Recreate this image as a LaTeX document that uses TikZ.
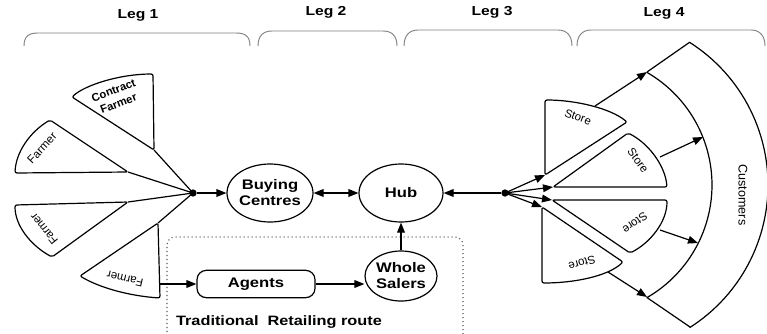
\documentclass[tikz,border=0pt]{standalone}
\usepackage{fontspec}
\setmainfont{Liberation Sans}
\newfontfamily\widefont[FakeStretch=1.2]{Liberation Sans}
\usetikzlibrary{arrows.meta,shapes.geometric}
\tikzset{
  arr/.style={-{Triangle[length=7.5pt,width=5.8pt]}},
  dbl/.style={{Triangle[length=7.5pt,width=5.8pt]}-{Triangle[length=7.5pt,width=5.8pt]}},
  sect/.style={draw, line join=round, rounded corners=1.5pt},
  lbl/.style={font=\widefont\bfseries\fontsize{10.4}{12}\selectfont, align=center},
  leglbl/.style={font=\widefont\bfseries\fontsize{9.8}{11}\selectfont},
  small/.style={font=\fontsize{8.6}{10}\selectfont, align=center},
  smallb/.style={font=\bfseries\fontsize{8.4}{10.5}\selectfont, align=center},
  brace/.style={draw=gray, line width=0.7pt},
  dotnode/.style={circle, fill, inner sep=0pt, minimum size=5.5pt},
  ell/.style={draw, ellipse, inner sep=0pt}
}
\begin{document}
\begin{tikzpicture}[x=0.75pt,y=-0.75pt,line width=0.9pt]
\clip (0,0) rectangle (767,333);
\useasboundingbox (0,0) rectangle (767,333);

% Leg labels and braces
\node[leglbl] (leg1) at (138,15) {Leg 1};
\node[leglbl] (leg2) at (326,12) {Leg 2};
\node[leglbl] (leg3) at (492,12) {Leg 3};
\node[leglbl] (leg4) at (664,13) {Leg 4};
\draw[brace] (24,46) .. controls (24,36) and (29,33) .. (38,33) -- (236,33) .. controls (245,33) and (250,36) .. (250,46);
\draw[brace] (258,46) .. controls (258,36) and (263,31) .. (272,31) -- (383,31) .. controls (392,31) and (397,36) .. (397,46);
\draw[brace] (404,46) .. controls (404,36) and (409,30) .. (418,30) -- (558,30) .. controls (567,30) and (572,36) .. (572,46);
\draw[brace] (577,46) .. controls (577,36) and (582,30) .. (591,30) -- (751,30) .. controls (760,30) and (765,36) .. (765,46);

% traditional route box
\draw[gray!70!black, line width=0.9pt, dash pattern=on 0.8pt off 2.2pt, rounded corners=6pt] (167,340) -- (167,237) -- (463,237) -- (463,340);
\node[anchor=west, font=\widefont\bfseries\fontsize{10.2}{11}\selectfont] (trad) at (171,322) {Traditional~~Retailing route};

% main nodes
\node[dotnode] (d1) at (193,193) {};
\node[ell, minimum width=64.5pt, minimum height=43.5pt, label={[lbl]center:{Buying\\Centres}}] (bc) at (270,193) {};
\node[ell, minimum width=63pt, minimum height=43.5pt, label={[lbl]center:Hub}] (hub) at (401,193) {};
\node[ell, minimum width=54pt, minimum height=37.5pt, label={[lbl]center:{Whole\\Salers}}] (ws) at (401,276) {};
\node[draw, rounded corners=7pt, minimum width=88.5pt, minimum height=20.5pt, inner sep=0pt, lbl] (ag) at (256,284) {Agents};
\node[dotnode] (d2) at (505,193) {};

% farmers
\coordinate (cfa) at (154,150);
\draw[sect] (cfa) -- (72,97) .. controls (85,85) and (120,74) .. (153,74) -- cycle;
\node[smallb, rotate=21] (cft) at (116,97) {Contract\\Farmer};
\coordinate (f1a) at (128,172);
\draw[sect] (f1a) -- (50,120) .. controls (30,132) and (16,152) .. (15,173) -- cycle;
\node[small, rotate=47] (f1t) at (42,148) {Farmer};
\coordinate (f2a) at (128,202);
\draw[sect] (f2a) -- (15,205) .. controls (15,225) and (30,245) .. (52,257) -- cycle;
\node[small, rotate=129] (f2t) at (44,229) {Farmer};
\coordinate (f3a) at (158,223);
\draw[sect] (f3a) -- (80,276) .. controls (100,288) and (130,296) .. (160,298) -- cycle;
\node[small, rotate=167] (f3t) at (125,279) {Farmer};
\coordinate (f3o) at (159,284);

\draw (cfa) -- (d1.center);
\draw (f1a) -- (d1.center);
\draw (f2a) -- (d1.center);
\draw (f3a) -- (d1.center);
\draw[arr] (d1) -- (bc);
\draw[arr] (f3o) -- (ag.west);
\draw[dbl] (bc) -- (hub);
\draw[arr] (ag.east) -- (ag.east -| ws.west);
\draw[arr] (ws.north) -- (hub.south);
\draw[arr] (d2) -- (hub);

% stores
\coordinate (s1a) at (545,175);
\draw[sect] (s1a) -- (545,100) .. controls (575,100) and (610,108) .. (627,122) -- cycle;
\node[small, rotate=-20] (s1t) at (578,117) {Store};
\coordinate (s2a) at (553,187);
\draw[sect] (s2a) -- (628,133) .. controls (648,143) and (665,165) .. (667,187) -- cycle;
\node[small, rotate=-54] (s2t) at (638,160) {Store};
\coordinate (s3a) at (552,200);
\draw[sect] (s3a) -- (667,200) .. controls (667,222) and (650,243) .. (630,253) -- cycle;
\node[small, rotate=216] (s3t) at (635,223) {Store};
\coordinate (s4a) at (542,207);
\draw[sect] (s4a) -- (623,262) .. controls (608,276) and (575,283) .. (542,283) -- cycle;
\node[small, rotate=196] (s4t) at (582,263) {Store};

\draw[arr] (d2.center) -- (s1a);
\draw[arr] (d2.center) -- (s2a);
\draw[arr] (d2.center) -- (s3a);
\draw[arr] (d2.center) -- (s4a);

% customers
\coordinate (ci1) at (647,72);
\coordinate (ci2) at (647,297);
\coordinate (co1) at (690,42);
\coordinate (co2) at (690,327);
\draw[line join=round] (co1) -- (ci1) plot[domain=-60:60, samples=60] ({582+130*cos(\x)},{185+130*sin(\x)}) -- (co2)
  plot[domain=57.6:-57.6, samples=60] ({599+169*cos(\x)},{185+169*sin(\x)});
\node[font=\fontsize{9.4}{11}\selectfont, rotate=-90] (cust) at (743,195) {Customers};

\coordinate (c1) at (647,72);
\coordinate (c2) at (703,137);
\coordinate (c3) at (698,243);
\coordinate (c4) at (647,297);
\coordinate (s1o) at (595,106);
\coordinate (s2o) at (660,157);
\coordinate (s3o) at (660,230);
\coordinate (s4o) at (608,272);
\draw[arr] (s1o) -- (c1);
\draw[arr] (s2o) -- (c2);
\draw[arr] (s3o) -- (c3);
\draw[arr] (s4o) -- (c4);
\end{tikzpicture}
\end{document}
